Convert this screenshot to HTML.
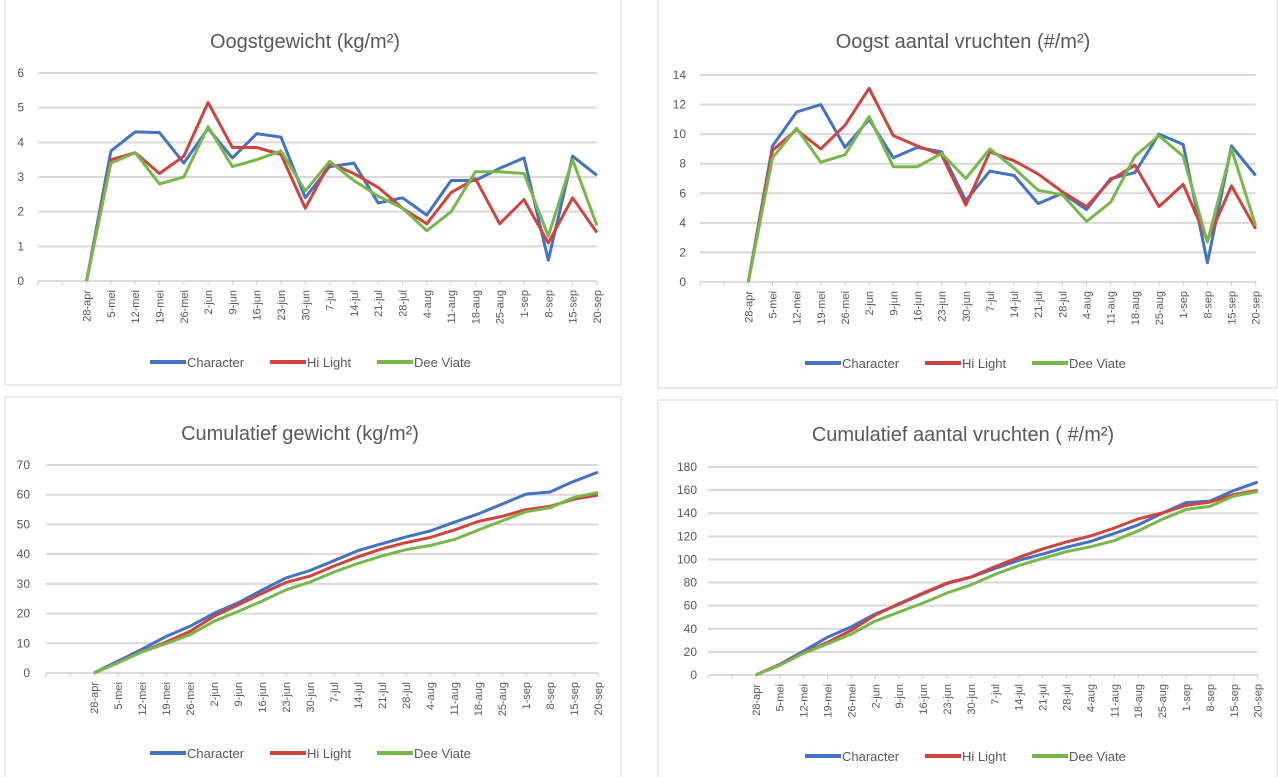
<!DOCTYPE html>
<html><head><meta charset="utf-8"><style>
body{margin:0;background:#fff;width:1278px;height:777px;overflow:hidden;font-family:"Liberation Sans",sans-serif;}
svg{position:absolute;left:0;top:0}
</style></head><body>
<svg id="s" width="1278" height="777"></svg>
<script>
const categories=["","","28-apr","5-mei","12-mei","19-mei","26-mei","2-jun","9-jun","16-jun","23-jun","30-jun","7-jul","14-jul","21-jul","28-jul","4-aug","11-aug","18-aug","25-aug","1-sep","8-sep","15-sep","20-sep"];
const seriesNames=["Character","Hi Light","Dee Viate"];
const w1Char=[0,3.75,4.3,4.28,3.4,4.4,3.55,4.25,4.15,2.4,3.3,3.4,2.25,2.4,1.9,2.9,2.9,3.25,3.55,0.6,3.6,3.05];
const w1Hi=[0,3.5,3.7,3.1,3.6,5.15,3.85,3.85,3.65,2.1,3.4,3.1,2.7,2.1,1.65,2.55,2.95,1.65,2.35,1.1,2.4,1.4];
const w1Dee=[0,3.4,3.7,2.8,3.0,4.45,3.3,3.5,3.75,2.6,3.45,2.9,2.45,2.1,1.45,2.0,3.15,3.15,3.1,1.3,3.5,1.6];
const n1Char=[0,9.2,11.5,12,9.1,11,8.4,9.1,8.8,5.5,7.5,7.2,5.3,6,4.9,7,7.4,10,9.3,1.3,9.2,7.2];
const n1Hi=[0,8.9,10.3,9.0,10.6,13.1,9.9,9.2,8.6,5.2,8.8,8.2,7.3,6.1,5.1,6.9,7.9,5.1,6.6,2.8,6.5,3.6];
const n1Dee=[0,8.4,10.4,8.1,8.6,11.2,7.8,7.8,8.7,7.0,9.0,7.7,6.2,5.9,4.1,5.4,8.5,9.9,8.5,2.7,9.0,3.8];
const cwChar=[0,4,8,12.3,15.7,20.1,23.6,27.9,32,34.5,37.8,41.2,43.5,45.8,47.8,50.7,53.5,56.8,60.2,60.9,64.5,67.6];
const cwHi=[0,3.5,7.2,10.4,14,19.1,22.9,26.8,30.5,32.6,36,39.1,41.8,43.9,45.6,48.1,51,52.7,55,56.1,58.5,59.9];
const cwDee=[0,3.4,7.1,9.9,12.9,17.4,20.7,24.2,28,30.6,34,36.9,39.4,41.5,42.9,44.9,48.1,51.2,54.3,55.6,59.1,60.7];
const cnChar=[0,9.2,20.7,32.7,41.8,52.8,61.2,70.3,79.1,84.6,92.1,99.3,104.6,110.6,115.5,122.5,129.9,139.9,149.2,150.5,159.7,166.9];
const cnHi=[0,8.9,19.2,28.2,38.8,51.9,61.8,71,79.6,84.8,93.6,101.8,109.1,115.2,120.3,127.2,135.1,140.2,146.8,149.6,156.1,159.7];
const cnDee=[0,8.4,18.8,26.9,35.5,46.7,54.5,62.3,71,78,87,94.7,100.9,106.8,110.9,116.3,124.8,134.7,143.2,145.9,154.9,158.7];
const ticks1=[0,1,2,3,4,5,6];
const ticks2=[0,2,4,6,8,10,12,14];
const ticks3=[0,10,20,30,40,50,60,70];
const ticks4=[0,20,40,60,80,100,120,140,160,180];

const NS="http://www.w3.org/2000/svg";
const svg=document.getElementById('s');
const colors=["#4472c4","#d04440","#78b84a"];
function mk(tag,attrs,parent){const e=document.createElementNS(NS,tag);for(const k in attrs)e.setAttribute(k,attrs[k]);(parent||svg).appendChild(e);return e;}

function chart(cfg){
  const g=mk('g',{});
  
  
  const bx=mk('rect',{x:cfg.box[0],y:cfg.box[1],width:cfg.box[2],height:cfg.box[3],fill:'#fff',stroke:'#d9d9d9','stroke-width':1},g);
  
  
  const t=mk('text',{x:cfg.tx,y:cfg.ty,'text-anchor':'middle','font-size':20,fill:'#595959'},g);
  t.textContent=cfg.title;
  
  
  const maxT=cfg.ticks[cfg.ticks.length-1];
  const yf=v=>cfg.y0-(v/maxT)*(cfg.y0-cfg.yTop);
  const xf=i=>cfg.x0+i*cfg.dx;
  const xEnd=xf(categories.length-1);
  cfg.ticks.forEach(v=>{
    if(v>0){const l=mk('line',{x1:cfg.x0,x2:xEnd,y1:yf(v),y2:yf(v),stroke:'#d9d9d9','stroke-width':2},g);
    
    }
    const tl=mk('text',{x:cfg.ylx,y:yf(v)+4,'text-anchor':'end','font-size':12,fill:'#595959'},g);
    tl.textContent=v;
    
    
  });
  const ax=mk('line',{x1:cfg.x0,x2:xEnd,y1:cfg.y0,y2:cfg.y0,stroke:'#d0d0d0','stroke-width':1.5},g);
  
  
  categories.forEach((c,i)=>{
    const tk=mk('line',{x1:xf(i),x2:xf(i),y1:cfg.y0,y2:cfg.y0+4,stroke:'#d0d0d0'},g);
    
    
    if(c){const tx=mk('text',{x:0,y:0,transform:`translate(${xf(i)+4},${cfg.y0+9}) rotate(-90)`,'text-anchor':'end','font-size':11,fill:'#595959'},g);
    tx.textContent=c;
    
    }
  });
  cfg.series.forEach((arr,si)=>{
    const pts=arr.map((v,i)=>xf(i+2).toFixed(1)+','+yf(v).toFixed(1)).join(' ');
    const p=mk('polyline',{points:pts,fill:'none',stroke:colors[si],'stroke-width':3,'stroke-linejoin':'round'},g);
    
    
  });
  let lx=cfg.legX;
  seriesNames.forEach((n,si)=>{
    const le=mk('g',{},g);
    
    
    mk('line',{x1:lx,x2:lx+36,y1:cfg.legY,y2:cfg.legY,stroke:colors[si],'stroke-width':4},le);
    const lt=mk('text',{x:lx+37,y:cfg.legY+5,'font-size':13,fill:'#595959'},le);
    lt.textContent=n;
    lx+=[120,107,0][si];
  });
}
chart({name:'chart-oogstgewicht',box:[5,-1,616,386],title:'Oogstgewicht (kg/m²)',tx:305,ty:48,ticks:ticks1,x0:38,dx:24.3,y0:281,yTop:73,ylx:24,series:[w1Char,w1Hi,w1Dee],legX:150,legY:362});
chart({name:'chart-oogst-aantal',box:[658,-1,619,389],title:'Oogst aantal vruchten (#/m²)',tx:963,ty:48,ticks:ticks2,x0:700,dx:24.16,y0:282,yTop:75,ylx:686,series:[n1Char,n1Hi,n1Dee],legX:805,legY:363});
chart({name:'chart-cumulatief-gewicht',box:[5,397,616,381],title:'Cumulatief gewicht  (kg/m²)',tx:300,ty:440,ticks:ticks3,x0:46,dx:24.0,y0:673,yTop:465,ylx:30,series:[cwChar,cwHi,cwDee],legX:150,legY:753});
chart({name:'chart-cumulatief-aantal',box:[658,400,619,378],title:'Cumulatief aantal vruchten ( #/m²)',tx:963,ty:441,ticks:ticks4,x0:708,dx:23.9,y0:675,yTop:467,ylx:697,series:[cnChar,cnHi,cnDee],legX:805,legY:756});
</script>
</body></html>
